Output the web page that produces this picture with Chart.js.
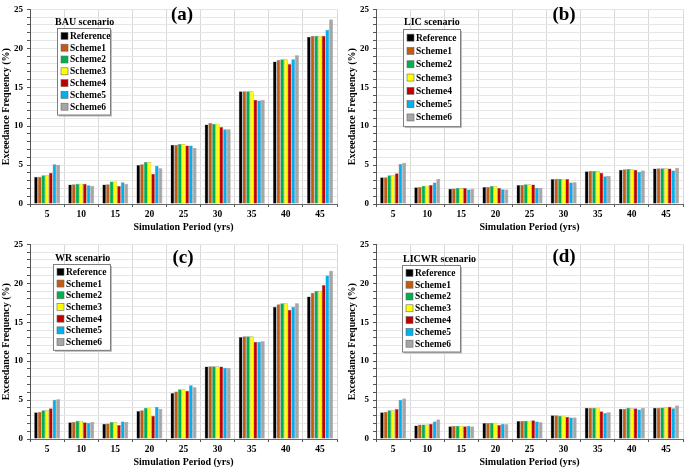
<!DOCTYPE html>
<html>
<head>
<meta charset="utf-8">
<script src="https://cdn.jsdelivr.net/npm/chart.js@4.4.0/dist/chart.umd.min.js"></script>
<style>
  body { margin: 0; background: #fff; }
  .panel { position: absolute; }
</style>
</head>
<body>
<div class="panel" style="left:0px;top:0px"><canvas id="chartA" width="342" height="235"></canvas></div>
<div class="panel" style="left:346px;top:0px"><canvas id="chartB" width="339" height="235"></canvas></div>
<div class="panel" style="left:0px;top:235px"><canvas id="chartC" width="342" height="235"></canvas></div>
<div class="panel" style="left:346px;top:235px"><canvas id="chartD" width="339" height="235"></canvas></div>
<script>
const periods = ['5', '10', '15', '20', '25', '30', '35', '40', '45'];
const schemes = ['Reference', 'Scheme1', 'Scheme2', 'Scheme3', 'Scheme4', 'Scheme5', 'Scheme6'];
const schemeColors = ['#000000', '#C55A11', '#00B050', '#FFFF00', '#C00000', '#00B0F0', '#A6A6A6'];
const scenarioNames = ['BAU scenario', 'LIC scenario', 'WR scenario', 'LICWR scenario'];
const panelLetters = ['(a)', '(b)', '(c)', '(d)'];

// one row per scheme, one value per simulation period
const bauSeries = [
    [3.5, 2.5, 2.5, 5.0, 7.6, 10.2, 14.5, 18.3, 21.5],
    [3.5, 2.55, 2.55, 5.1, 7.6, 10.4, 14.5, 18.5, 21.6],
    [3.7, 2.6, 2.9, 5.4, 7.7, 10.3, 14.5, 18.6, 21.6],
    [3.7, 2.6, 2.9, 5.4, 7.7, 10.3, 14.5, 18.6, 21.6],
    [4.0, 2.6, 2.3, 3.9, 7.5, 9.9, 13.4, 18.0, 21.6],
    [5.1, 2.4, 2.8, 4.9, 7.5, 9.6, 13.3, 18.6, 22.4],
    [5.0, 2.35, 2.6, 4.6, 7.2, 9.6, 13.4, 19.1, 23.7]
];
const licSeries = [
    [3.45, 2.15, 1.95, 2.2, 2.45, 3.2, 4.2, 4.4, 4.55],
    [3.45, 2.2, 2.0, 2.2, 2.45, 3.25, 4.25, 4.45, 4.6],
    [3.7, 2.35, 2.05, 2.3, 2.55, 3.25, 4.25, 4.5, 4.6],
    [3.7, 2.35, 2.05, 2.3, 2.55, 3.25, 4.25, 4.5, 4.6],
    [3.95, 2.45, 2.05, 2.05, 2.5, 3.2, 4.0, 4.4, 4.55],
    [5.15, 2.75, 1.85, 1.9, 2.1, 2.75, 3.55, 4.15, 4.3],
    [5.3, 3.2, 1.95, 1.85, 2.05, 2.8, 3.6, 4.3, 4.65]
];
const wrSeries = [
    [3.45, 2.15, 1.95, 3.6, 5.9, 9.3, 13.1, 17.0, 18.3],
    [3.5, 2.2, 2.0, 3.7, 6.1, 9.35, 13.2, 17.3, 18.8],
    [3.7, 2.35, 2.2, 4.0, 6.4, 9.35, 13.2, 17.45, 19.0],
    [3.7, 2.35, 2.2, 4.0, 6.4, 9.35, 13.2, 17.45, 19.0],
    [3.95, 2.15, 1.8, 3.0, 6.2, 9.3, 12.5, 16.6, 19.8],
    [5.05, 2.1, 2.25, 4.1, 6.9, 9.15, 12.5, 17.0, 21.0],
    [5.1, 2.2, 2.2, 3.85, 6.65, 9.1, 12.55, 17.45, 21.6]
];
const licwrSeries = [
    [3.45, 1.75, 1.65, 2.05, 2.3, 3.05, 4.0, 3.9, 4.0],
    [3.5, 1.85, 1.7, 2.05, 2.3, 3.05, 4.0, 3.9, 4.0],
    [3.7, 1.85, 1.7, 2.1, 2.35, 3.0, 4.0, 4.0, 4.05],
    [3.7, 1.85, 1.7, 2.1, 2.35, 3.0, 4.0, 3.95, 4.05],
    [3.85, 1.95, 1.65, 1.8, 2.4, 2.85, 3.55, 3.95, 4.15],
    [5.05, 2.25, 1.7, 1.95, 2.25, 2.75, 3.35, 3.8, 3.95],
    [5.2, 2.5, 1.6, 1.9, 2.15, 2.75, 3.45, 4.0, 4.3]
];

const serif = '"Liberation Serif", "Times New Roman", serif';

// draws scenario name, boxed legend and panel letter inside the plot
const panelDeco = {
    id: 'panelDeco',
    afterDraw(chart, args, opts) {
        const ctx = chart.ctx;
        ctx.save();
        ctx.fillStyle = '#000';
        ctx.textBaseline = 'middle';
        ctx.font = 'bold 10px ' + serif;
        ctx.textAlign = 'left';
        ctx.fillText(opts.name, opts.titleX, opts.titleY);
        // panel letter
        ctx.font = 'bold 19px ' + serif;
        ctx.textAlign = 'center';
        ctx.fillText(opts.letter, opts.letterX, opts.letterY);
        // legend box with a light shadow
        const n = chart.data.datasets.length;
        const h = opts.rowGap * n + 4;
        ctx.fillStyle = '#bfbfbf';
        ctx.fillRect(opts.boxX + 2, opts.boxY + 2, opts.boxW, h);
        ctx.fillStyle = '#fff';
        ctx.fillRect(opts.boxX, opts.boxY, opts.boxW, h);
        ctx.strokeStyle = '#7f7f7f';
        ctx.lineWidth = 1;
        ctx.strokeRect(opts.boxX + 0.5, opts.boxY + 0.5, opts.boxW, h);
        ctx.font = 'bold 9.5px ' + serif;
        ctx.textAlign = 'left';
        chart.data.datasets.forEach(function (ds, i) {
            const y = opts.boxY + 2 + opts.rowGap * (i + 0.5);
            ctx.fillStyle = ds.backgroundColor;
            ctx.fillRect(opts.boxX + 4, y - 3.5, 7, 7);
            ctx.strokeStyle = '#666';
            ctx.lineWidth = 0.6;
            ctx.strokeRect(opts.boxX + 4, y - 3.5, 7, 7);
            ctx.fillStyle = '#000';
            ctx.fillText(ds.label, opts.boxX + 13, y + 0.5);
        });
        ctx.restore();
    }
};

function makeChart(id, series, idx, deco, padRight) {
    const datasets = series.map(function (vals, i) {
        return {
            label: schemes[i],
            data: vals,
            backgroundColor: schemeColors[i],
            borderColor: 'rgba(70,70,70,0.7)',
            borderWidth: 0.5,
            barPercentage: 1.0,
            categoryPercentage: 0.76
        };
    });
    deco.name = scenarioNames[idx];
    deco.letter = panelLetters[idx];
    return new Chart(document.getElementById(id), {
        type: 'bar',
        data: { labels: periods, datasets: datasets },
        plugins: [panelDeco],
        options: {
            responsive: false,
            animation: false,
            layout: { padding: { top: deco.padTop, right: padRight, left: 0, bottom: 2 } },
            plugins: {
                legend: { display: false },
                tooltip: { enabled: false },
                panelDeco: deco
            },
            scales: {
                x: {
                    grid: { color: '#d9d9d9', lineWidth: 1, tickLength: 3, tickColor: '#555' },
                    border: { color: '#666', width: 1 },
                    ticks: { color: '#000', font: { family: serif, weight: 'bold', size: 9.5 }, padding: 2 },
                    title: {
                        display: true, text: 'Simulation Period (yrs)', color: '#000',
                        font: { family: serif, weight: 'bold', size: 10 }, padding: { top: 1, bottom: 0 }
                    },
                    afterFit: function (scale) { scale.height = 29; }
                },
                y: {
                    min: 0, max: 25,
                    grid: { color: '#e6e6e6', lineWidth: 1, tickLength: 3, tickColor: '#555' },
                    border: { color: '#555', width: 1 },
                    ticks: {
                        stepSize: 1, autoSkip: false, color: '#000', padding: 4,
                        font: { family: serif, weight: 'bold', size: 9 },
                        callback: function (v) { return v % 5 === 0 ? v : ''; }
                    },
                    title: {
                        display: true, text: 'Exceedance Frequency (%)', color: '#000',
                        font: { family: serif, weight: 'bold', size: 10 }, padding: { top: 0, bottom: 0 }
                    },
                    afterFit: function (scale) { scale.width = 30; }
                }
            }
        }
    });
}

makeChart('chartA', bauSeries, 0,
    { padTop: 3, titleX: 55, titleY: 22, letterX: 182, letterY: 15, boxX: 57, boxY: 28, boxW: 53, rowGap: 11.8 }, 5);
makeChart('chartB', licSeries, 1,
    { padTop: 3, titleX: 58, titleY: 22, letterX: 218, letterY: 15, boxX: 57, boxY: 29, boxW: 57, rowGap: 13.3 }, 2);
makeChart('chartC', wrSeries, 2,
    { padTop: 5, titleX: 55, titleY: 23, letterX: 183, letterY: 23, boxX: 53, boxY: 29, boxW: 57, rowGap: 11.7 }, 5);
makeChart('chartD', licwrSeries, 3,
    { padTop: 5, titleX: 57, titleY: 24, letterX: 218, letterY: 22, boxX: 56, boxY: 30, boxW: 58, rowGap: 11.8 }, 2);
</script>
</body>
</html>
